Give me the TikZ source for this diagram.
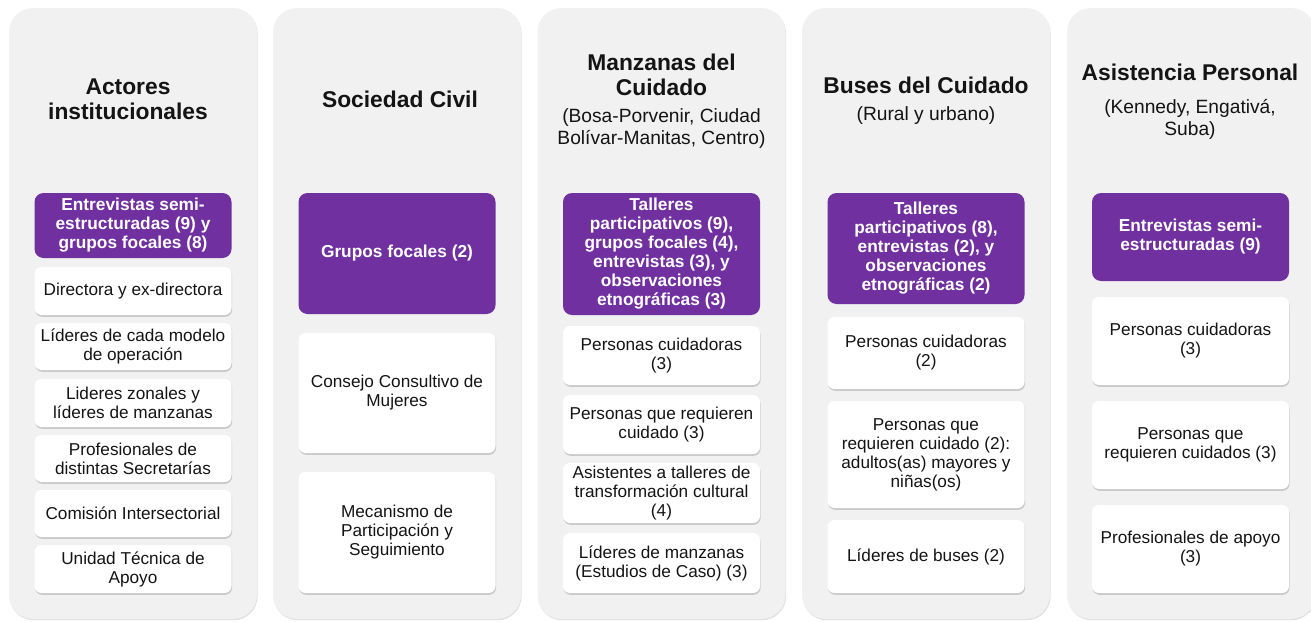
\documentclass[tikz,border=0pt]{standalone}
\usepackage{fontspec}
\setmainfont{Liberation Sans}
\usetikzlibrary{shadows}
\definecolor{colbg}{RGB}{241,241,241}
\definecolor{purp}{RGB}{112,48,160}
\definecolor{txt}{RGB}{20,20,20}
\tikzset{
  colbox/.style={rectangle, fill=colbg, rounded corners=24pt, minimum width=248pt, minimum height=611pt, inner sep=0pt,
    drop shadow={shadow xshift=0.6pt, shadow yshift=-1.2pt, opacity=0.25}},
  purpbox/.style={rectangle, fill=purp, rounded corners=9pt, text=white, align=center, inner sep=0pt,
    font=\bfseries\fontsize{17.3}{19}\selectfont, minimum width=197pt},
  wbox/.style={rectangle, fill=white, rounded corners=7pt, text=txt, align=center, inner sep=0pt,
    font=\fontsize{17.2}{19}\selectfont, minimum width=197pt,
    drop shadow={shadow xshift=0.6pt, shadow yshift=-1.8pt, opacity=0.35}},
  ttl/.style={text=txt, align=center, font=\bfseries\fontsize{22.8}{25}\selectfont, inner sep=0pt},
  subttl/.style={text=txt, align=center, font=\fontsize{19.2}{22}\selectfont, inner sep=0pt}
}
\begin{document}
\begin{tikzpicture}[x=1pt,y=-1pt]
\useasboundingbox (0,0) rectangle (1311,621);
% columns
\node[colbox] (c1) at (133,313.5) {};
\node[colbox] (c2) at (397,313.5) {};
\node[colbox] (c3) at (661.5,313.5) {};
\node[colbox] (c4) at (926,313.5) {};
\node[colbox] (c5) at (1191,313.5) {};
% column 1
\node[ttl] (t1) at (128,99.5) {Actores\\institucionales};
\node[purpbox, minimum height=65pt] (p1) at (133,225.5) {Entrevistas semi-\\estructuradas (9) y\\grupos focales (8)};
\node[wbox, minimum height=48pt] (a1) at (133,291) {Directora y ex-directora};
\node[wbox, minimum height=47pt] (a2) at (133,346.5) {Líderes de cada modelo\\de operación};
\node[wbox, minimum height=48pt] (a3) at (133,403) {Lideres zonales y\\líderes de manzanas};
\node[wbox, minimum height=47pt] (a4) at (133,458.5) {Profesionales de\\distintas Secretarías};
\node[wbox, minimum height=47pt] (a5) at (133,513.5) {Comisión Intersectorial};
\node[wbox, minimum height=48pt] (a6) at (133,569) {Unidad Técnica de\\Apoyo};
% column 2
\node[ttl] (t2) at (400,99) {Sociedad Civil};
\node[purpbox, minimum height=121pt] (p2) at (397,253.5) {Grupos focales (2)};
\node[wbox, minimum height=120pt] (b1) at (397,393) {Consejo Consultivo de\\Mujeres};
\node[wbox, minimum height=121pt] (b2) at (397,532.5) {Mecanismo de\\Participación y\\Seguimiento};
% column 3
\node[ttl] (t3) at (661.5,75) {Manzanas del\\Cuidado};
\node[subttl] (s3) at (661.5,129) {(Bosa-Porvenir, Ciudad\\Bolívar-Manitas, Centro)};
\node[purpbox, minimum height=122pt] (p3) at (661.5,254) {Talleres\\participativos (9),\\grupos focales (4),\\entrevistas (3), y\\observaciones\\etnográficas (3)};
\node[wbox, minimum height=59pt] (m1) at (661.5,355.5) {Personas cuidadoras\\(3)};
\node[wbox, minimum height=59pt] (m2) at (661.5,424.5) {Personas que requieren\\cuidado (3)};
\node[wbox, minimum height=60pt] (m3) at (661.5,493) {Asistentes a talleres de\\transformación cultural\\(4)};
\node[wbox, minimum height=60pt] (m4) at (661.5,563) {Líderes de manzanas\\(Estudios de Caso) (3)};
% column 4
\node[ttl] (t4) at (926,85) {Buses del Cuidado};
\node[subttl] (s4) at (926,116) {(Rural y urbano)};
\node[purpbox, minimum height=111pt] (p4) at (926,248.5) {Talleres\\participativos (8),\\entrevistas (2), y\\observaciones\\etnográficas (2)};
\node[wbox, minimum height=72pt] (u1) at (926,353) {Personas cuidadoras\\(2)};
\node[wbox, minimum height=107pt] (u2) at (926,454.5) {Personas que\\requieren cuidado (2):\\adultos(as) mayores y\\niñas(os)};
\node[wbox, minimum height=73pt] (u3) at (926,556.5) {Líderes de buses (2)};
% column 5
\node[ttl] (t5) at (1190,72) {Asistencia Personal};
\node[subttl] (s5) at (1190,119) {(Kennedy, Engativá,\\Suba)};
\node[purpbox, minimum height=88pt] (p5) at (1190.5,237) {Entrevistas semi-\\estructuradas (9)};
\node[wbox, minimum height=88pt] (v1) at (1190.5,341) {Personas cuidadoras\\(3)};
\node[wbox, minimum height=88pt] (v2) at (1190.5,445) {Personas que\\requieren cuidados (3)};
\node[wbox, minimum height=88pt] (v3) at (1190.5,549) {Profesionales de apoyo\\(3)};
\end{tikzpicture}
\end{document}
